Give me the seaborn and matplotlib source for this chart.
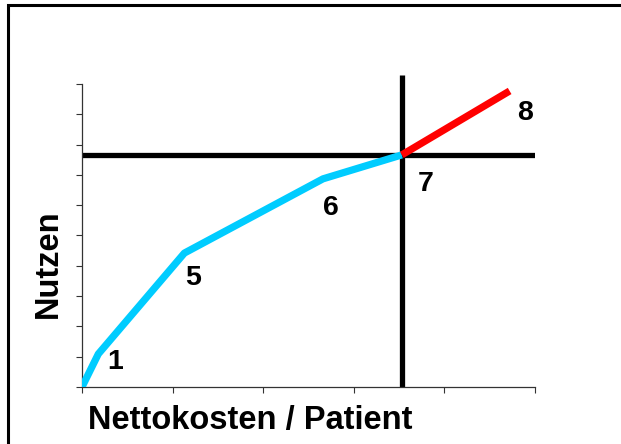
import numpy as np
import pandas as pd
import matplotlib.pyplot as plt
import seaborn as sns
from matplotlib.patches import Rectangle

# points along the curve (x = Nettokosten, y = Nutzen)
point_labels = ["", "1", "5", "6", "7", "8"]
kosten = [0.0, 0.18, 1.13, 2.66, 3.53, 4.72]
nutzen = [0.0, 1.09, 4.42, 6.87, 7.66, 9.77]

sns.set_style("ticks")
plt.rcParams['font.family'] = ['Liberation Sans', 'DejaVu Sans']
plt.rcParams['text.color'] = 'black'
plt.rcParams['axes.labelcolor'] = 'black'

df = pd.DataFrame({'Kosten': kosten, 'Nutzen': nutzen})
# cyan part up to point 7, red part from 7 to 8
df_blue = df.iloc[0:5]
df_red = df.iloc[4:6]

fig = plt.figure(figsize=(6.21, 4.44), dpi=100)
ax = fig.add_axes([82/621, 1-387/444, 453/621, 303/444])

# crosshair through point 7
ax.plot([0, 5], [nutzen[4], nutzen[4]], color='black', lw=3.8, solid_capstyle='butt', zorder=2)
ax.plot([kosten[4], kosten[4]], [0, 10.3], color='black', lw=3.8, solid_capstyle='butt',
        clip_on=False, zorder=2)

sns.lineplot(data=df_blue, x='Kosten', y='Nutzen', color='#00CCFF', lw=5.2,
             sort=False, ax=ax, zorder=3, solid_capstyle='butt')
sns.lineplot(data=df_red, x='Kosten', y='Nutzen', color='#FF0000', lw=5.2,
             sort=False, ax=ax, zorder=3, solid_capstyle='butt')

offsets = [(0, 0), (12, -6), (6, -18), (6, -21), (17, -21), (11, -16)]
for lab, xv, yv, off in zip(point_labels, kosten, nutzen, offsets):
    if lab:
        ax.annotate(lab, (xv, yv), xytext=off, textcoords='offset points',
                    fontsize=20.5, fontweight='bold', ha='center', va='center')

ax.set_xlim(0, 5)
ax.set_ylim(0, 10)
ax.set_xticks(np.arange(0, 6, 1))
ax.set_yticks(np.arange(0, 11, 1))
ax.set_xticklabels([])
ax.set_yticklabels([])
ax.tick_params(length=4, width=0.8, color='#333333')
sns.despine(ax=ax)
for s in ['left', 'bottom']:
    ax.spines[s].set_linewidth(0.9)
    ax.spines[s].set_color('#333333')

ax.set_xlabel('Nettokosten / Patient', fontsize=23.5, fontweight='bold')
ax.set_ylabel('Nutzen', fontsize=23.5, fontweight='bold')
ax.xaxis.set_label_coords(168/453, -18/303)
ax.yaxis.set_label_coords(-18/453, 123/303)

fig.patches.append(Rectangle((8/621, -0.1), 1.2, 1.1 - 5/444, transform=fig.transFigure,
                             fill=False, lw=2.2, edgecolor='black'))

fig.savefig('out.png', dpi=100)
